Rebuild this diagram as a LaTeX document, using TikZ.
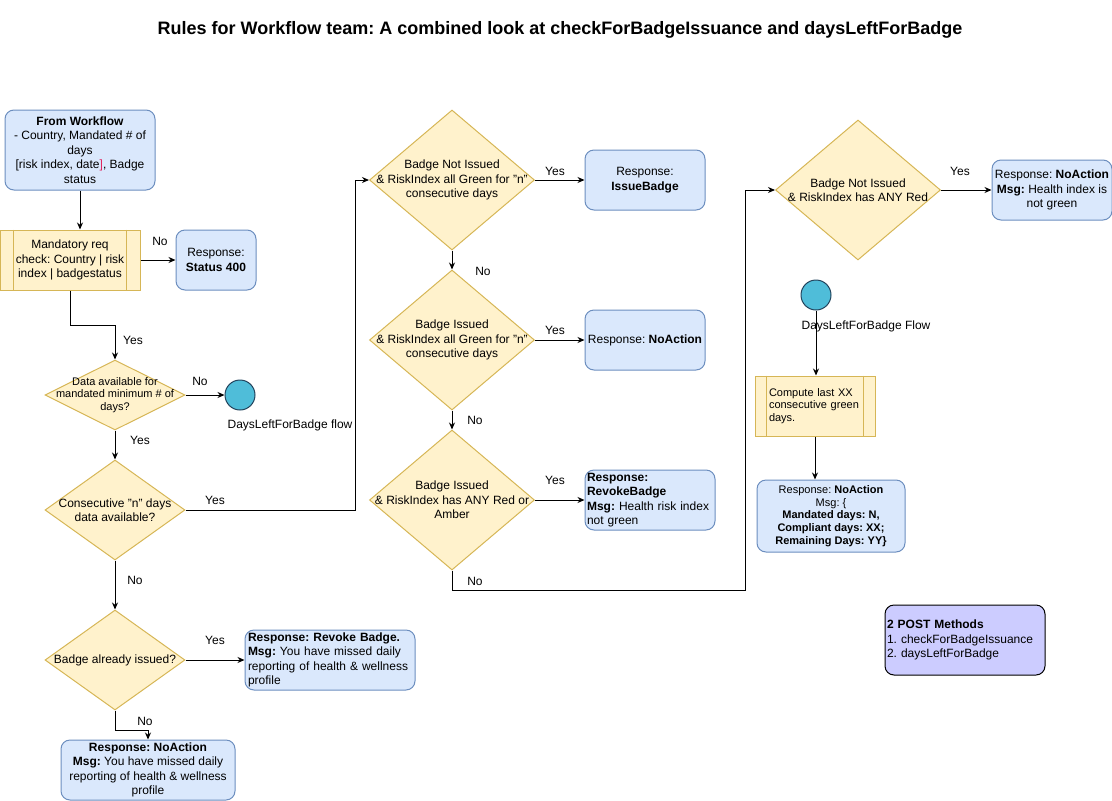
\documentclass[tikz,border=0pt]{standalone}
\usepackage{fontspec}
\setmainfont{Liberation Sans}
\usepackage{xcolor}
\usetikzlibrary{shapes.geometric,arrows.meta}
\definecolor{bfill}{HTML}{DAE8FC}
\definecolor{bstroke}{HTML}{6C8EBF}
\definecolor{yfill}{HTML}{FFF2CC}
\definecolor{ystroke}{HTML}{D6B656}
\definecolor{cfill}{HTML}{4FBDD9}
\definecolor{cstroke}{HTML}{23445D}
\definecolor{pfill}{HTML}{CCCCFF}
\definecolor{bracket}{HTML}{E0245E}
\frenchspacing

\tikzset{
  txt/.style={font=\fontsize{12}{14.4}\selectfont},
  small/.style={font=\fontsize{11}{12.6}\selectfont},
  resp/.style={txt, rectangle, rounded corners=9pt, draw=bstroke, fill=bfill,
    line width=1pt, align=center, inner sep=2pt},
  proc/.style={txt, rectangle, draw=ystroke, fill=yfill, line width=1pt,
    align=center, inner sep=2pt},
  dec/.style={diamond, draw=ystroke, fill=yfill, line width=1pt, inner sep=0pt},
  term/.style={circle, draw=cstroke, fill=cfill, line width=1pt,
    minimum size=30pt, inner sep=0pt},
  arr/.style={-{Stealth[length=7pt,width=6pt]}, line width=1pt},
  lab/.style={txt, align=center},
}

\begin{document}
\begin{tikzpicture}[x=1pt, y=-1pt]
  \useasboundingbox (0,0) rectangle (1112,801);

  % Titolo
  \node[font=\fontsize{18}{21}\selectfont\bfseries] (title) at (560,30)
    {Rules for Workflow team: A combined look at checkForBadgeIssuance and daysLeftForBadge};

  % Colonna sinistra
  \node[resp, minimum width=150, minimum height=80] (wf) at (80,150)
    {\textbf{From Workflow}\\- Country, Mandated \# of\\days\\\relax[risk index, date\textcolor{bracket}{]}, Badge\\status};
  \node[proc, minimum width=140, minimum height=60] (mreq) at (70,260)
    {Mandatory req\\check: Country | risk\\index | badgestatus};
  \draw[ystroke, line width=1pt] ([xshift=14]mreq.north west) -- ([xshift=14]mreq.south west);
  \draw[ystroke, line width=1pt] ([xshift=-14]mreq.north east) -- ([xshift=-14]mreq.south east);
  \node[resp, minimum width=80, minimum height=60] (s400) at (216,260)
    {Response:\\\textbf{Status 400}};

  \node[dec, minimum width=140, minimum height=70,
    label={[small, align=center]center:{Data available for\\mandated minimum \# of\\days?}}] (d1) at (115,395) {};
  \node[term] (c1) at (240,395) {};
  \node[lab] (c1lab) at (290,425) {DaysLeftForBadge flow};

  \node[dec, minimum width=140, minimum height=100,
    label={[lab]center:{Consecutive "n" days\\data available?}}] (d2) at (115,510) {};
  \node[dec, minimum width=140, minimum height=100,
    label={[lab]center:{Badge already issued?}}] (d4) at (115,660) {};

  \node[resp, minimum width=170, minimum height=60, text width=164, align=left] (rb) at (330,660)
    {\textbf{Response: Revoke Badge.}\\\textbf{Msg:} You have missed daily\\reporting of health \& wellness\\profile};
  \node[resp, minimum width=174, minimum height=60] (na1) at (148,770)
    {\textbf{Response: NoAction}\\\textbf{Msg:} You have missed daily\\reporting of health \& wellness\\profile};

  % Colonna centrale
  \node[dec, minimum width=165, minimum height=140,
    label={[lab]center:{Badge Not Issued\\\& RiskIndex all Green for "n"\\consecutive days}}] (d3) at (452,180) {};
  \node[dec, minimum width=165, minimum height=140,
    label={[lab]center:{Badge Issued\\\& RiskIndex all Green for "n"\\consecutive days}}] (d5) at (452,340) {};
  \node[dec, minimum width=165, minimum height=140,
    label={[lab]center:{Badge Issued\\\& RiskIndex has ANY Red or\\Amber}}] (d6) at (452,500) {};

  \node[resp, minimum width=120, minimum height=60] (ib) at (645,180)
    {Response:\\\textbf{IssueBadge}};
  \node[resp, minimum width=120, minimum height=60] (na2) at (645,340)
    {Response: \textbf{NoAction}};
  \node[resp, minimum width=130, minimum height=60, text width=126, align=left] (rb2) at (650,500)
    {\textbf{Response:}\\\textbf{RevokeBadge}\\\textbf{Msg:} Health risk index\\not green};

  % Colonna destra
  \node[dec, minimum width=165, minimum height=140,
    label={[lab]center:{Badge Not Issued\\\& RiskIndex has ANY Red}}] (d7) at (858,190) {};
  \node[resp, minimum width=120, minimum height=60] (na3) at (1052,190)
    {Response: \textbf{NoAction}\\\textbf{Msg:} Health index is\\not green};

  \node[term] (c2) at (816,295) {};
  \node[lab] (c2lab) at (866,326) {DaysLeftForBadge Flow};
  \node[proc, small, minimum width=120, minimum height=60, text width=92, align=left] (cmp) at (815,406)
    {Compute last XX\\consecutive green\\days.};
  \draw[ystroke, line width=1pt] ([xshift=12]cmp.north west) -- ([xshift=12]cmp.south west);
  \draw[ystroke, line width=1pt] ([xshift=-12]cmp.north east) -- ([xshift=-12]cmp.south east);
  \node[resp, small, minimum width=148, minimum height=72] (rs) at (831,516)
    {Response: \textbf{NoAction}\\Msg: \{\\\textbf{Mandated days: N,}\\\textbf{Compliant days: XX;}\\\textbf{Remaining Days: YY\}}};

  \node[txt, rectangle, rounded corners=9pt, draw=black, fill=pfill, line width=1pt,
    minimum width=160, minimum height=70, text width=156, align=left, inner sep=2pt] (post) at (965,640)
    {\textbf{2 POST Methods}\\1. checkForBadgeIssuance\\2. daysLeftForBadge};

  % Connettori
  \coordinate (j1) at (355,510);
  \coordinate (j2) at (745,590);
  \draw[arr] (wf.south) -- (wf.south |- mreq.north);
  \draw[arr] (mreq.east) -- (s400.west);
  \draw[arr] (mreq.south) -- ++(0,35) -| (d1.north);
  \draw[arr] (d1.east) -- (c1.west);
  \draw[arr] (d1.south) -- (d2.north);
  \draw[arr] (d2.east) -- (j1) |- (d3.west);
  \draw[arr] (d2.south) -- (d4.north);
  \draw[arr] (d4.east) -- (rb.west);
  \draw[arr] (d4.south) -- ++(0,20) -| (na1.north);
  \draw[arr] (d3.east) -- (ib.west);
  \draw[arr] (d3.south) -- (d5.north);
  \draw[arr] (d5.east) -- (na2.west);
  \draw[arr] (d5.south) -- (d6.north);
  \draw[arr] (d6.east) -- (rb2.west);
  \draw[arr] (d6.south) |- (j2) |- (d7.west);
  \draw[arr] (d7.east) -- (na3.west);
  \draw[arr] (c2.south) -- (c2.south |- cmp.north);
  \draw[arr] (cmp.south) -- (cmp.south |- rs.north);

  % Etichette Yes / No
  \node[txt] (lno1) at (160,241) {No};
  \node[txt] (lyes1) at (133,340) {Yes};
  \node[txt] (lno2) at (200,381) {No};
  \node[txt] (lyes2) at (140,440) {Yes};
  \node[txt] (lyes3) at (215,500) {Yes};
  \node[txt] (lno3) at (135,580) {No};
  \node[txt] (lyes4) at (215,640) {Yes};
  \node[txt] (lno4) at (145,721) {No};
  \node[txt] (lyes5) at (555,171) {Yes};
  \node[txt] (lno5) at (483,271) {No};
  \node[txt] (lyes6) at (555,330) {Yes};
  \node[txt] (lno6) at (475,420) {No};
  \node[txt] (lyes7) at (555,480) {Yes};
  \node[txt] (lno7) at (475,581) {No};
  \node[txt] (lyes8) at (960,171) {Yes};
\end{tikzpicture}
\end{document}
